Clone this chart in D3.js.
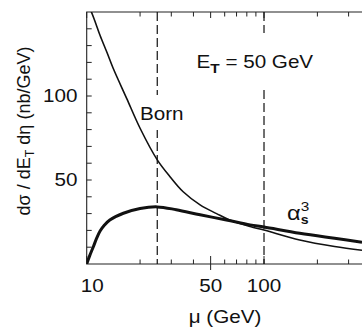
<!DOCTYPE html>
<html>
<head>
<meta charset="utf-8">
<script src="https://cdn.jsdelivr.net/npm/d3@7"></script>
<style>
  body { margin: 0; background: #fff; }
  svg text { font-family: "Liberation Sans", Arial, Helvetica, sans-serif; fill: #111; }
</style>
</head>
<body>
<div id="graph"></div>
<script>
// values
var bornMu  = [10, 11, 11.9, 13, 14.1, 16.8, 20, 25, 29.5, 35, 43.6, 54, 64, 83.5, 100, 159, 250, 357];
var bornVal = [157, 146, 136, 126, 116.5, 98.6, 80.8, 62, 52, 43, 35.2, 30, 26.2, 22.3, 20.2, 14.3, 10.4, 8.2];
var nloMu   = [10, 10.4, 10.9, 11.4, 11.9, 12.6, 13.5, 16.1, 20, 25, 32, 43.6, 61.4, 83.5, 100, 159, 250, 357];
var nloVal  = [0, 5, 10.3, 15.5, 19.6, 23.2, 26.2, 30.2, 33, 34, 32.3, 29.3, 26.2, 23.3, 22, 18.3, 15.3, 13];
var scaleLines = [25, 100];          // mu = E_T/2 and 2 E_T
var xTickLabels = [10, 50, 100];
var yTickLabels = [50, 100];
var yMinor = [10, 20, 30, 40, 50, 60, 70, 80, 90, 100, 110, 120, 130, 140];

var width = 362, height = 329;
var pad = { left: 86.7, right: 362, top: 12, bottom: 264 };
var SX = 1.18;   // the figure's lettering is wider than Liberation Sans

var svg = d3.select("#graph").append("svg")
    .attr("width", width)
    .attr("height", height);

var x = d3.scaleLog().domain([10, 357]).range([pad.left, pad.right]);
var y = d3.scaleLinear().domain([0, 150]).range([pad.bottom, pad.top]);

svg.append("defs").append("clipPath")
    .attr("id", "clip")
    .append("rect")
    .attr("x", pad.left).attr("y", pad.top)
    .attr("width", pad.right - pad.left).attr("height", pad.bottom - pad.top);

// frame (bottom, left, top)
svg.append("path")
    .attr("d", "M" + pad.right + "," + pad.bottom + "H" + pad.left + "V" + pad.top + "H" + pad.right)
    .attr("fill", "none")
    .attr("stroke", "#222")
    .attr("stroke-width", 1.1);

// x ticks, bottom and top, pointing inward
x.ticks().forEach(function (d) {
    var major = xTickLabels.indexOf(d) >= 0;
    svg.append("line")
        .attr("x1", x(d)).attr("x2", x(d))
        .attr("y1", pad.bottom + (d == 50 ? 6 : 0)).attr("y2", pad.bottom - (major ? 8 : 4.5))
        .attr("stroke", "#222").attr("stroke-width", 1);
    svg.append("line")
        .attr("x1", x(d)).attr("x2", x(d))
        .attr("y1", pad.top).attr("y2", pad.top + (major ? 6 : 4.5))
        .attr("stroke", "#222").attr("stroke-width", 1);
});

// y ticks
yMinor.forEach(function (d) {
    svg.append("line")
        .attr("x1", pad.left).attr("x2", pad.left + 5)
        .attr("y1", y(d)).attr("y2", y(d))
        .attr("stroke", "#222").attr("stroke-width", 1);
});

function label(xp, yp, anchor, size) {
    return svg.append("text")
        .attr("transform", "translate(" + xp + "," + yp + ") scale(" + SX + ",1)")
        .attr("text-anchor", anchor)
        .attr("font-size", (size || 17.5) + "px");
}

xTickLabels.forEach(function (d) {
    label(x(d) + (d == 10 ? 5.5 : 0), 291.5, "middle").text(d);
});
yTickLabels.forEach(function (d) {
    label(77.5, y(d) + 6, "end").text(d);
});

// axis titles
label(225, 323, "middle").text("\u03bc (GeV)");

var yl = svg.append("text")
    .attr("transform", "translate(30,131) rotate(-90)")
    .attr("text-anchor", "middle")
    .attr("font-size", "18px");
yl.append("tspan").text("d\u03c3 / dE");
yl.append("tspan").attr("font-size", "12.5px").attr("dy", 4).text("T");
yl.append("tspan").attr("dy", -4).text(" d\u03b7   (nb/GeV)");

// dashed scale lines
scaleLines.forEach(function (d) {
    svg.append("line")
        .attr("x1", x(d)).attr("x2", x(d))
        .attr("y1", pad.top).attr("y2", pad.bottom)
        .attr("stroke", "#111")
        .attr("stroke-width", 1.2)
        .attr("stroke-dasharray", "9,4");
});

// white knockouts behind the two labels that sit on the dashed lines
svg.append("rect").attr("x", 140).attr("y", 95).attr("width", 46).attr("height", 35).attr("fill", "#fff");
svg.append("rect").attr("x", 196).attr("y", 33).attr("width", 122).attr("height", 57).attr("fill", "#fff");

var line = d3.line()
    .curve(d3.curveCatmullRom.alpha(0.5))
    .x(function (d) { return x(d[0]); })
    .y(function (d) { return y(d[1]); });

var curves = svg.append("g").attr("clip-path", "url(#clip)");
curves.append("path")
    .datum(d3.zip(bornMu, bornVal))
    .attr("d", line)
    .attr("fill", "none")
    .attr("stroke", "#111")
    .attr("stroke-width", 1.6);
curves.append("path")
    .datum(d3.zip(nloMu, nloVal))
    .attr("d", line)
    .attr("fill", "none")
    .attr("stroke", "#111")
    .attr("stroke-width", 3);

// labels in the plot
label(140, 120, "start").text("Born");

var et = label(196.5, 68, "start");
et.append("tspan").text("E");
et.append("tspan").attr("font-size", "13px").attr("font-weight", "bold").attr("dy", 5).text("T");
et.append("tspan").attr("dy", -5).text(" = 50 GeV");

var al = label(287, 220, "start");
al.append("tspan").attr("font-size", "20px").text("\u03b1");
al.append("tspan").attr("font-size", "12px").attr("font-weight", "bold").attr("dy", 3.5).text("s");
al.append("tspan").attr("font-size", "13px").attr("dx", -6.5).attr("dy", -13).text("3");
</script>
</body>
</html>
